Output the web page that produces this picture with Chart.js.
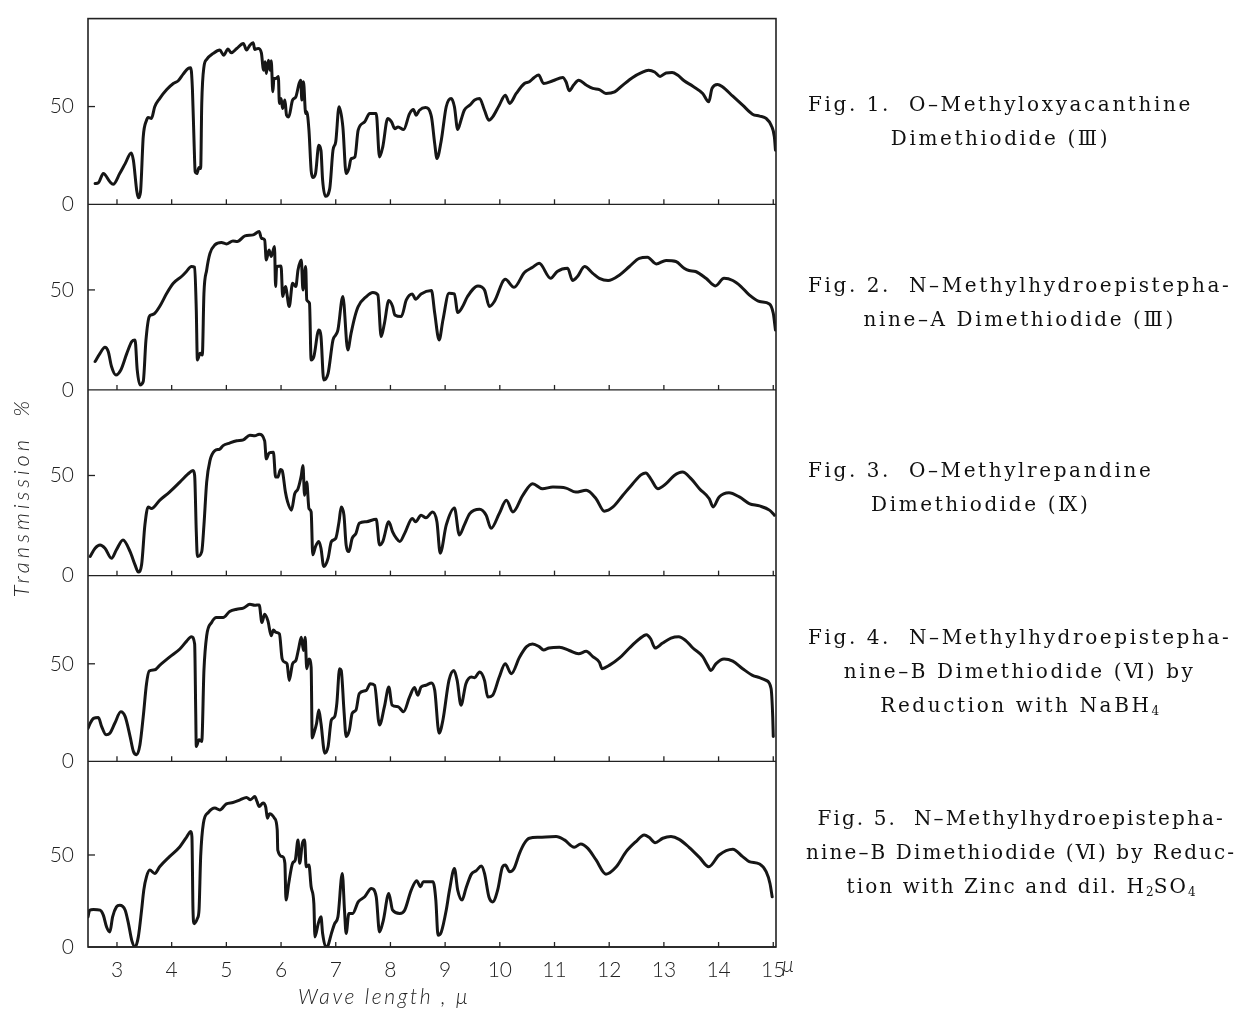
<!DOCTYPE html>
<html>
<head>
<meta charset="utf-8">
<script src="https://cdn.jsdelivr.net/npm/chart.js@4.4.1/dist/chart.umd.min.js"></script>
<style>
  body { margin: 0; background: #fff; }
  #wrap { position: relative; width: 1252px; height: 1012px; }
  .cap {
    position: absolute; left: 808px; display: inline-block; text-align: center;
    font-family: 'DejaVu Serif', 'Liberation Serif', serif; font-size: 20px;
    letter-spacing: 2.6px; line-height: 34px; color: #111; white-space: nowrap;
  }
  .cap sub { font-size: 12px; vertical-align: -3px; line-height: 0; letter-spacing: 0; }
</style>
</head>
<body>
<div id="wrap">
  <canvas id="irChart" width="1252" height="1012"></canvas>
  <div class="cap" style="top:87px">Fig. 1.&nbsp; O–Methyloxyacanthine<br>Dimethiodide (Ⅲ)</div>
  <div class="cap" style="top:268px">Fig. 2.&nbsp; N–Methylhydroepistepha-<br>nine–A Dimethiodide (Ⅲ)</div>
  <div class="cap" style="top:453px">Fig. 3.&nbsp; O–Methylrepandine<br>Dimethiodide (Ⅸ)</div>
  <div class="cap" style="top:620px">Fig. 4.&nbsp; N–Methylhydroepistepha-<br>nine–B Dimethiodide (Ⅵ) by<br>Reduction with NaBH<sub>4</sub></div>
  <div class="cap" style="top:801px;left:806px;letter-spacing:2.1px">Fig. 5.&nbsp; N–Methylhydroepistepha-<br>nine–B Dimethiodide (Ⅵ) by Reduc-<br>tion with Zinc and dil. H<sub>2</sub>SO<sub>4</sub></div>
</div>
<script>
// wave length ticks (μ) and transmission ticks (%)
const waveTicks = [3, 4, 5, 6, 7, 8, 9, 10, 11, 12, 13, 14, 15];
const transTicks = [0, 50];

// Fig. 1  O-Methyloxyacanthine dimethiodide
const fig1Wave = [2.60, 2.66, 2.75, 2.87, 2.93, 3.05, 3.15, 3.26, 3.30, 3.36, 3.39, 3.43, 3.48, 3.54, 3.57, 3.63, 3.69, 3.78, 3.91, 4.03, 4.12, 4.21, 4.30, 4.35, 4.38, 4.41, 4.43, 4.46, 4.50, 4.53, 4.55, 4.59, 4.64, 4.76, 4.88, 4.95, 5.03, 5.09, 5.19, 5.31, 5.37, 5.43, 5.49, 5.52, 5.58, 5.64, 5.68, 5.71, 5.73, 5.77, 5.80, 5.82, 5.85, 5.87, 5.91, 5.95, 5.97, 6.00, 6.03, 6.07, 6.10, 6.14, 6.21, 6.27, 6.33, 6.36, 6.38, 6.41, 6.45, 6.47, 6.51, 6.55, 6.58, 6.63, 6.69, 6.73, 6.76, 6.81, 6.89, 6.95, 7.00, 7.06, 7.13, 7.19, 7.24, 7.28, 7.35, 7.41, 7.53, 7.62, 7.74, 7.80, 7.86, 7.95, 8.02, 8.08, 8.14, 8.24, 8.35, 8.42, 8.47, 8.53, 8.64, 8.75, 8.81, 8.85, 8.93, 9.02, 9.11, 9.17, 9.23, 9.29, 9.35, 9.45, 9.54, 9.63, 9.72, 9.80, 9.87, 9.99, 10.10, 10.18, 10.30, 10.45, 10.54, 10.63, 10.71, 10.80, 10.97, 11.15, 11.21, 11.27, 11.35, 11.44, 11.58, 11.70, 11.82, 11.94, 12.10, 12.25, 12.43, 12.58, 12.72, 12.83, 12.93, 13.04, 13.15, 13.25, 13.37, 13.53, 13.71, 13.82, 13.88, 13.98, 14.07, 14.26, 14.44, 14.62, 14.75, 14.87, 14.96, 15.02, 15.04];
const fig1Trans = [10.6, 11, 15.7, 11.5, 10.2, 15.7, 20.8, 26.3, 22.5, 7.2, 3.3, 6.3, 34.5, 43, 44.4, 43.9, 49.9, 54.1, 58.7, 61.8, 63.2, 66.6, 69.5, 69.8, 58.4, 31.1, 16.6, 15.7, 18.8, 18.3, 51.6, 70.3, 74.1, 77.2, 78.9, 76.3, 79.4, 77.5, 79.7, 82.3, 78.9, 81.4, 82.6, 79.2, 79.7, 77.5, 68.6, 72.9, 66.9, 73.7, 68.6, 73.4, 57.6, 64.4, 64.4, 65.4, 51.6, 54.1, 49.0, 53.3, 45.6, 44.7, 53.3, 55.0, 61.8, 63.5, 53.3, 62.7, 46.4, 47.3, 37.9, 17.4, 13.7, 15.7, 30.2, 27.5, 12.3, 4.1, 8.0, 27.7, 32, 49.9, 39.6, 15.7, 18.3, 23.3, 24.2, 37.9, 42.2, 46.4, 46.4, 24.2, 29.4, 43.9, 42.2, 38.7, 39.6, 38.2, 46.4, 48.5, 45.6, 48.1, 49.5, 44.7, 30.9, 23.4, 32.8, 49.9, 54.1, 49.9, 38.2, 43, 48.1, 50.7, 53.3, 54.1, 48.1, 43.0, 44.7, 50.7, 55.8, 51.6, 56.7, 61.8, 62.7, 64.9, 66.1, 61.8, 63.2, 64.9, 62.7, 58.1, 61, 63.5, 61, 59.3, 58.7, 56.7, 57.5, 61, 64.9, 67.2, 68.6, 67.7, 65.4, 67.2, 67.4, 66.1, 63.2, 60.4, 56.7, 52.4, 59.3, 61.3, 60.1, 55.3, 50.7, 46.1, 45.1, 43.9, 40.5, 34.5, 27.7];

// Fig. 2  N-Methylhydroepistephanine-A dimethiodide
const fig2Wave = [2.60, 2.69, 2.78, 2.84, 2.90, 2.98, 3.07, 3.18, 3.27, 3.33, 3.37, 3.42, 3.48, 3.53, 3.59, 3.63, 3.69, 3.78, 3.91, 4.03, 4.18, 4.27, 4.36, 4.42, 4.45, 4.47, 4.52, 4.56, 4.59, 4.64, 4.70, 4.79, 4.91, 5.00, 5.12, 5.20, 5.34, 5.49, 5.60, 5.64, 5.70, 5.73, 5.78, 5.82, 5.88, 5.90, 5.92, 6.00, 6.03, 6.08, 6.15, 6.21, 6.27, 6.31, 6.37, 6.40, 6.45, 6.47, 6.52, 6.55, 6.60, 6.69, 6.73, 6.78, 6.86, 6.95, 7.00, 7.04, 7.13, 7.22, 7.28, 7.35, 7.41, 7.56, 7.68, 7.77, 7.83, 7.89, 7.97, 8.04, 8.08, 8.20, 8.29, 8.40, 8.46, 8.56, 8.75, 8.81, 8.89, 8.96, 9.07, 9.17, 9.23, 9.32, 9.41, 9.60, 9.72, 9.81, 9.90, 10.10, 10.26, 10.45, 10.60, 10.72, 10.93, 11.05, 11.24, 11.33, 11.42, 11.55, 11.70, 11.82, 11.98, 12.19, 12.37, 12.55, 12.70, 12.86, 13.04, 13.22, 13.37, 13.46, 13.58, 13.77, 13.94, 14.10, 14.26, 14.41, 14.56, 14.75, 14.93, 15.00, 15.04];
const fig2Trans = [14.2, 18.3, 21.3, 19.2, 11.7, 7.5, 10, 18.3, 24.2, 25, 10, 2.5, 4.2, 25, 36.7, 37.5, 38.3, 41.7, 48.3, 53.3, 56.7, 59.2, 61.7, 61.3, 40, 15, 18.3, 17.5, 48.3, 60, 68.3, 72.5, 73.7, 73, 74.5, 74.2, 77, 77.5, 79.2, 75.8, 75, 65, 70, 66.7, 71.7, 51.7, 61.7, 62, 46.7, 51.7, 41.7, 53.3, 51.7, 60, 65, 50, 61.7, 45, 43.3, 15, 16.7, 30, 26.7, 5, 8.3, 25, 27.5, 30, 46.7, 20, 28.3, 36.7, 41.7, 46.7, 48.7, 47.5, 26.7, 33.3, 44.7, 41.7, 37.5, 36.7, 45, 48, 45.3, 48, 49.7, 38.3, 25, 35, 48.3, 48, 38.7, 41.7, 46.7, 52, 50, 41.7, 44.2, 55.3, 51.3, 58.7, 61.3, 63.3, 55.8, 59.2, 60.8, 54.7, 56.7, 61.7, 58.3, 55.8, 54.7, 57.5, 61.7, 65.8, 66.3, 63, 64.7, 64.2, 60.8, 59.7, 59.2, 55.8, 52, 55.8, 54.7, 51.7, 47.5, 44.2, 43, 38.3, 30];

// Fig. 3  O-Methylrepandine dimethiodide
const fig3Wave = [2.51, 2.60, 2.69, 2.78, 2.90, 2.99, 3.11, 3.24, 3.33, 3.39, 3.45, 3.51, 3.57, 3.63, 3.78, 3.96, 4.15, 4.30, 4.39, 4.42, 4.45, 4.47, 4.55, 4.59, 4.64, 4.70, 4.79, 4.88, 4.94, 5.06, 5.19, 5.31, 5.43, 5.52, 5.60, 5.70, 5.73, 5.78, 5.86, 5.90, 5.94, 5.99, 6.02, 6.08, 6.12, 6.19, 6.25, 6.31, 6.37, 6.40, 6.43, 6.47, 6.51, 6.55, 6.58, 6.63, 6.69, 6.73, 6.78, 6.86, 6.92, 7.00, 7.06, 7.10, 7.15, 7.19, 7.24, 7.30, 7.37, 7.43, 7.56, 7.74, 7.80, 7.86, 7.97, 8.04, 8.11, 8.17, 8.26, 8.40, 8.46, 8.56, 8.65, 8.77, 8.85, 8.91, 9.02, 9.17, 9.26, 9.35, 9.45, 9.63, 9.75, 9.84, 9.99, 10.12, 10.24, 10.42, 10.60, 10.78, 10.97, 11.21, 11.39, 11.58, 11.76, 11.91, 12.07, 12.25, 12.43, 12.58, 12.67, 12.76, 12.89, 13.04, 13.19, 13.34, 13.50, 13.65, 13.83, 13.90, 14.01, 14.19, 14.38, 14.56, 14.75, 14.93, 15.02];
const fig3Trans = [9.6, 13.7, 15.3, 13.7, 8.7, 12.9, 17.8, 12, 5.4, 1.8, 5.4, 25.2, 34.3, 33.5, 37.6, 41.7, 46.7, 50.8, 52.5, 50, 21.9, 9.6, 12, 25.2, 46.7, 57.4, 62.4, 63.2, 64.9, 66.2, 67.3, 67.8, 70.1, 69.8, 70.6, 67.3, 58.3, 61.2, 61.6, 49.2, 49.2, 53, 52.5, 41.7, 36.8, 32.7, 40.9, 43.4, 50, 55, 40.1, 46.7, 33.5, 31.8, 10.4, 14.5, 17, 13.7, 4.6, 8.7, 17, 18.6, 26.9, 34.3, 30.2, 15.3, 12, 18.6, 21.1, 26.1, 26.9, 28.2, 15.3, 17, 26.9, 21.9, 18.6, 17, 21.1, 28.5, 26.9, 30.2, 28.9, 31.8, 26.9, 11.2, 25.2, 33.8, 20.3, 25.2, 31, 33.2, 30.2, 23.6, 31, 37.6, 31.8, 40.1, 45.9, 43.4, 44.2, 43.7, 41.7, 42.6, 38.4, 32.2, 34.3, 40.1, 45.9, 50.3, 51.3, 48.3, 43.4, 45.9, 50, 51.7, 48.3, 43.4, 38.4, 34.3, 39.3, 41.4, 39.3, 36, 34.8, 32.7, 30.2];

// Fig. 4  N-Methylhydroepistephanine-B dimethiodide (NaBH4)
const fig4Wave = [2.47, 2.51, 2.57, 2.66, 2.72, 2.80, 2.87, 2.96, 3.07, 3.15, 3.24, 3.30, 3.36, 3.42, 3.48, 3.54, 3.59, 3.69, 3.78, 3.96, 4.15, 4.27, 4.36, 4.42, 4.44, 4.45, 4.50, 4.55, 4.59, 4.64, 4.73, 4.82, 4.94, 5.06, 5.19, 5.31, 5.43, 5.52, 5.60, 5.65, 5.70, 5.76, 5.82, 5.86, 5.91, 5.97, 6.02, 6.07, 6.11, 6.15, 6.21, 6.27, 6.32, 6.37, 6.41, 6.44, 6.47, 6.51, 6.55, 6.57, 6.60, 6.65, 6.69, 6.73, 6.80, 6.86, 6.92, 6.98, 7.02, 7.07, 7.10, 7.15, 7.19, 7.25, 7.30, 7.37, 7.43, 7.56, 7.63, 7.71, 7.80, 7.89, 7.97, 8.03, 8.14, 8.24, 8.35, 8.44, 8.50, 8.56, 8.65, 8.75, 8.81, 8.89, 8.96, 9.07, 9.16, 9.22, 9.29, 9.38, 9.48, 9.54, 9.63, 9.72, 9.78, 9.87, 9.99, 10.10, 10.21, 10.36, 10.49, 10.60, 10.72, 10.80, 10.90, 11.09, 11.27, 11.44, 11.58, 11.70, 11.82, 11.87, 12.00, 12.19, 12.37, 12.55, 12.68, 12.76, 12.84, 12.97, 13.13, 13.27, 13.40, 13.53, 13.71, 13.80, 13.86, 13.95, 14.10, 14.26, 14.44, 14.62, 14.75, 14.87, 14.96, 14.99, 15.00];
const fig4Trans = [16.9, 19.5, 22, 22.5, 17.8, 13.6, 14.4, 19.5, 25.4, 22.9, 12.7, 5.1, 3.4, 8.5, 22.9, 39.8, 46.3, 46.9, 49.2, 53.4, 57.6, 61.5, 63.9, 60.2, 24.6, 7.6, 11, 10.2, 46.6, 64.4, 71.2, 73.7, 73.7, 76.8, 78, 78.5, 80.5, 80, 80.2, 71.2, 75.4, 72, 64.4, 67.3, 66.1, 65.3, 52.5, 50.8, 50, 41.5, 50, 51.7, 57.6, 63.6, 56.8, 63.6, 47.5, 52.5, 48.3, 12, 14.4, 19.5, 26.3, 19.5, 4.2, 7.6, 21.2, 22.9, 29.7, 47.5, 46.6, 26.3, 12.7, 16.1, 24.6, 26.3, 34.7, 36.4, 39.8, 39, 18.6, 28, 38.1, 28.8, 28, 25.4, 33, 37.8, 33.9, 38.1, 39, 40.2, 36.4, 14.4, 21.2, 41.5, 46.6, 41.5, 28.8, 39.8, 43.2, 42.9, 45.8, 41.5, 33, 33.9, 43.2, 50, 44.9, 53.4, 58.8, 60.2, 58.8, 57.1, 58.1, 58.5, 56.8, 55.1, 56.4, 53.7, 50.8, 47.5, 49.2, 53, 58.1, 62.7, 64.9, 62.7, 58.1, 60.5, 63.2, 63.9, 61.9, 58.1, 53.7, 49.2, 46.6, 50, 52.5, 51.4, 47.5, 44.1, 42.9, 41.5, 37.3, 22.9, 12.7];

// Fig. 5  N-Methylhydroepistephanine-B dimethiodide (Zn / dil. H2SO4)
const fig5Wave = [2.47, 2.50, 2.57, 2.69, 2.75, 2.81, 2.87, 2.92, 2.99, 3.05, 3.15, 3.21, 3.27, 3.33, 3.39, 3.45, 3.49, 3.54, 3.60, 3.69, 3.78, 3.96, 4.15, 4.27, 4.35, 4.37, 4.39, 4.41, 4.47, 4.50, 4.53, 4.58, 4.67, 4.79, 4.88, 5.00, 5.12, 5.25, 5.37, 5.44, 5.52, 5.56, 5.60, 5.67, 5.72, 5.75, 5.79, 5.88, 5.93, 5.94, 6.03, 6.07, 6.09, 6.14, 6.21, 6.26, 6.31, 6.34, 6.39, 6.43, 6.46, 6.51, 6.55, 6.60, 6.62, 6.68, 6.73, 6.76, 6.82, 6.86, 6.92, 6.98, 7.04, 7.12, 7.16, 7.19, 7.24, 7.31, 7.41, 7.53, 7.65, 7.74, 7.80, 7.87, 7.97, 8.04, 8.17, 8.26, 8.38, 8.48, 8.55, 8.60, 8.78, 8.83, 8.87, 8.93, 9.02, 9.08, 9.17, 9.23, 9.31, 9.38, 9.48, 9.57, 9.66, 9.72, 9.80, 9.87, 9.96, 10.05, 10.10, 10.18, 10.26, 10.36, 10.45, 10.54, 10.72, 11.03, 11.18, 11.36, 11.48, 11.61, 11.76, 11.94, 12.13, 12.31, 12.49, 12.64, 12.73, 12.84, 12.98, 13.13, 13.28, 13.46, 13.65, 13.82, 14.01, 14.26, 14.44, 14.56, 14.75, 14.87, 14.94, 14.98];
const fig5Trans = [16.4, 20, 20.4, 20, 17.3, 10.9, 8.2, 16.4, 21.8, 22.7, 20, 12.7, 3.6, 0, 5.5, 20, 30.9, 38.2, 41.8, 40, 43.6, 49.1, 54.5, 59.6, 62.7, 60, 20, 12.7, 15.5, 20, 49.1, 67.3, 73.1, 75.5, 74.5, 77.8, 78.5, 80, 81.3, 80, 81.8, 79.1, 76.4, 78.2, 76, 70, 72.4, 70, 63.6, 52.7, 49.1, 45.5, 25.5, 34.5, 45.5, 47.3, 58.2, 45.5, 56.4, 58.2, 43.6, 44.5, 32.7, 23.6, 5.5, 12.7, 16.4, 7.3, 0, 0.9, 7.3, 12.7, 16.4, 40, 20, 7.3, 18.2, 18.2, 24.5, 27.3, 31.8, 27.3, 8.2, 14.5, 29.1, 20, 18.2, 20, 30.9, 36, 32.7, 35.5, 35.5, 25.5, 6.4, 8.2, 20, 30.9, 42.7, 30.9, 25.5, 31.8, 39.6, 41.5, 44, 40, 27.3, 24.5, 30.9, 43.6, 44.5, 40.9, 42.7, 50.9, 56.4, 59.1, 59.6, 60, 58.2, 54.2, 56, 53.6, 47.3, 39.6, 43.6, 51.8, 57.3, 60.9, 59.6, 56.7, 59.1, 60, 58.5, 54.2, 48.7, 43.6, 50, 53.1, 49.1, 46.4, 45.1, 40.9, 34.5, 27.3];

const panelIds = ['p1', 'p2', 'p3', 'p4', 'p5'];
const panelTops = [95, 92.8, 92.7, 95.2, 100.9];
const waves = [fig1Wave, fig2Wave, fig3Wave, fig4Wave, fig5Wave];
const trans = [fig1Trans, fig2Trans, fig3Trans, fig4Trans, fig5Trans];

const ink = '#161616';
const lightFont = { family: 'Lato, "DejaVu Sans", sans-serif', weight: 300, size: 21 };

const datasets = panelIds.map((id, i) => ({
    label: 'Fig. ' + (i + 1),
    data: waves[i].map((w, k) => ({ x: w, y: trans[i][k] })),
    yAxisID: id,
    borderColor: ink,
    borderWidth: 3,
    pointRadius: 0,
    cubicInterpolationMode: 'monotone',
    borderJoinStyle: 'round',
    borderCapStyle: 'round',
}));

function panelScale(top) {
    return {
        type: 'linear',
        position: 'left',
        stack: 'spectra',
        stackWeight: 1,
        min: 0,
        max: top,
        grid: { display: false },
        border: { display: false },
        afterBuildTicks: s => { s.ticks = transTicks.map(v => ({ value: v })); },
        afterFit: s => { s.width = 88; },
        ticks: { padding: 6, color: '#222', font: lightFont },
    };
}

const scales = {
    x: {
        type: 'linear',
        min: 2.47,
        max: 15.05,
        grid: { display: false },
        border: { display: false },
        afterBuildTicks: s => { s.ticks = waveTicks.map(v => ({ value: v })); },
        afterFit: s => { s.height = 64; },
        ticks: { padding: 3, autoSkip: false, maxRotation: 0, color: '#222', font: lightFont, callback: v => String(v) },
    },
};
// later-defined left axes stack on top, so add panel 5 first
for (let i = panelIds.length - 1; i >= 0; i--) {
    scales[panelIds[i]] = panelScale(panelTops[i]);
}

// frame, panel baselines, inward tick marks and axis titles
const framePlugin = {
    id: 'frame',
    afterDatasetsDraw(chart) {
        const { ctx, chartArea: a } = chart;
        const xs = chart.scales.x;
        const seg = (x1, y1, x2, y2) => { ctx.beginPath(); ctx.moveTo(x1, y1); ctx.lineTo(x2, y2); ctx.stroke(); };
        ctx.save();
        ctx.strokeStyle = '#222';
        ctx.lineWidth = 1.6;
        ctx.strokeRect(a.left, a.top, a.right - a.left, a.bottom - a.top);
        ctx.lineWidth = 1.3;
        panelIds.forEach(id => {
            const s = chart.scales[id];
            const y0 = s.getPixelForValue(0);
            seg(a.left, y0, a.right, y0);
            waveTicks.forEach(v => {
                const x = xs.getPixelForValue(v);
                seg(x, y0, x, y0 - 5);
            });
            const y50 = s.getPixelForValue(50);
            seg(a.left, y50, a.left + 7, y50);
        });

        ctx.fillStyle = '#222';
        ctx.textBaseline = 'middle';
        // μ after the last tick label
        ctx.font = 'italic 300 21px Lato, "DejaVu Sans", sans-serif';
        ctx.textAlign = 'left';
        ctx.fillText('μ', xs.getPixelForValue(15) + 9, a.bottom + 18);

        ctx.letterSpacing = '2.6px';
        ctx.font = 'italic 300 21px Lato, "DejaVu Sans", sans-serif';
        ctx.fillText('Wave length , μ', 298, 997);

        ctx.translate(22, 497);
        ctx.rotate(-Math.PI / 2);
        ctx.textAlign = 'center';
        ctx.letterSpacing = '4px';
        ctx.font = 'italic 300 22px Lato, "DejaVu Sans", sans-serif';
        ctx.fillText('Transmission  %', 0, 0);
        ctx.restore();
    }
};

new Chart(document.getElementById('irChart'), {
    type: 'line',
    data: { datasets: datasets },
    options: {
        responsive: false,
        animation: false,
        layout: { padding: { top: 15, right: 476, bottom: 1, left: 0 } },
        scales: scales,
        plugins: {
            legend: { display: false },
            tooltip: { enabled: false },
        },
    },
    plugins: [framePlugin],
});
</script>
</body>
</html>
